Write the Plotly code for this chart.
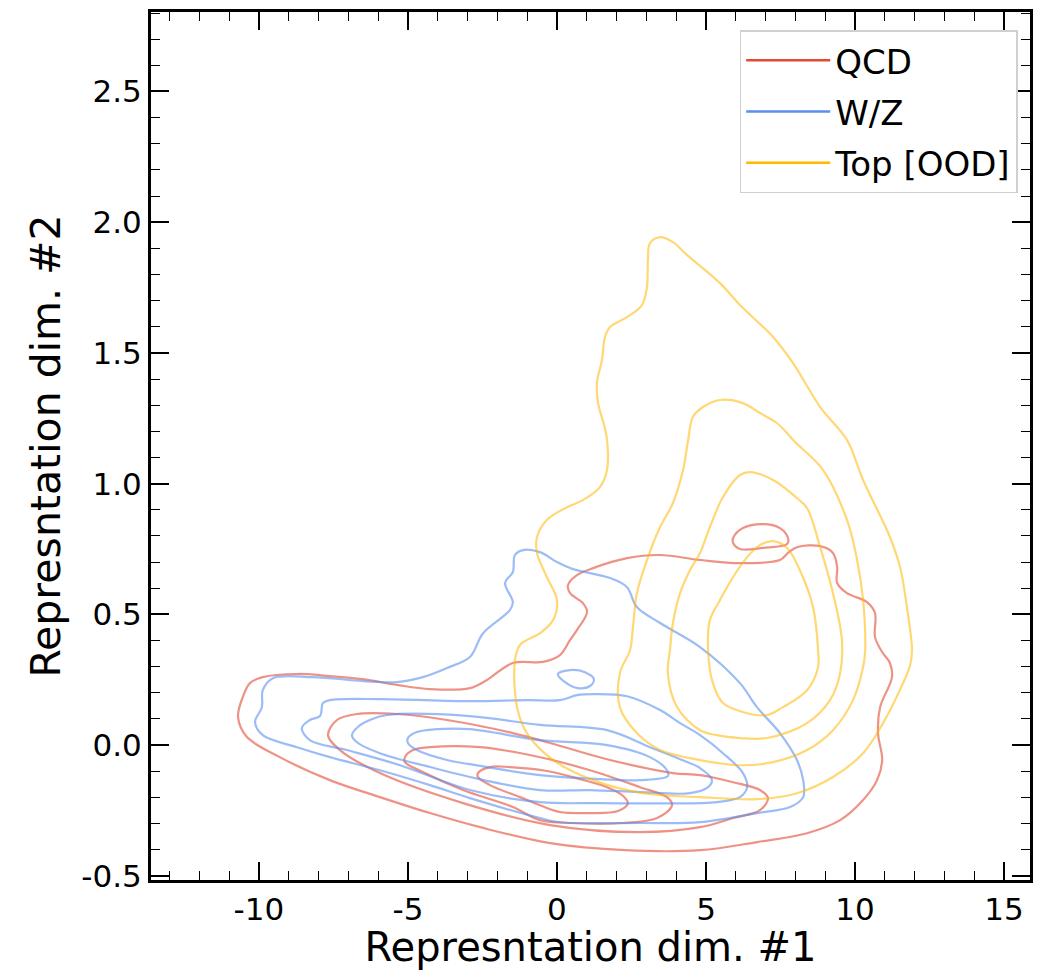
import plotly.graph_objects as go

# ---------------- data (data units) ----------------
classes = ["QCD", "W/Z", "Top [OOD]"]
legend_colors = ["rgb(226,74,51)", "rgb(90,143,240)", "rgb(255,184,0)"]
contour_colors = ["rgba(226,74,51,0.6)", "rgba(90,143,240,0.6)", "rgba(255,184,0,0.55)"]

# QCD contours
qcd_x_1 = [-10.70, -10.54, -10.30, -9.87, -8.72, -7.62, -6.51, -5.37, -4.26, -2.92, -2.35, -1.48, -0.47, 0.10, 0.44,
           0.67, 1.01, 0.87, 0.44, 0.37, 0.67, 1.21, 2.35, 3.46, 4.80, 6.14, 7.48, 7.75, 8.05, 8.83, 9.26, 9.40, 9.40,
           9.73, 10.40, 10.67, 10.67, 10.91, 11.17, 11.24, 10.84, 10.77, 10.91, 10.74, 10.27, 9.50, 8.39, 6.71, 4.80,
           2.28, -0.23, -2.58, -4.26, -5.94, -7.62, -9.30, -10.40, -10.70]
qcd_y_1 = [0.107, 0.184, 0.237, 0.260, 0.272, 0.264, 0.252, 0.230, 0.214, 0.218, 0.249, 0.314, 0.318, 0.344, 0.402,
           0.440, 0.509, 0.543, 0.581, 0.612, 0.650, 0.677, 0.715, 0.727, 0.708, 0.696, 0.708, 0.735, 0.757, 0.761,
           0.735, 0.681, 0.620, 0.581, 0.547, 0.505, 0.413, 0.356, 0.314, 0.260, 0.145, 0.046, -0.057, -0.134, -0.210,
           -0.287, -0.337, -0.371, -0.402, -0.402, -0.375, -0.314, -0.260, -0.199, -0.134, -0.046, 0.031, 0.107]
qcd_x_1b = [5.91, 6.24, 6.91, 7.48, 7.75, 7.72, 6.91, 6.14, 5.91, 5.91]
qcd_y_1b = [0.792, 0.830, 0.845, 0.830, 0.792, 0.769, 0.754, 0.750, 0.773, 0.792]
qcd_x_2 = [-7.68, -7.38, -6.71, -5.37, -3.69, -1.48, -0.23, 1.68, 3.89, 4.80, 5.91, 6.81, 7.08, 6.81, 5.91, 4.80,
           2.79, -0.23, -3.15, -5.94, -7.28, -7.68]
qcd_y_2 = [0.038, 0.096, 0.119, 0.119, 0.096, 0.046, 0.008, -0.054, -0.107, -0.115, -0.142, -0.172, -0.203, -0.249,
           -0.279, -0.314, -0.333, -0.306, -0.222, -0.107, -0.019, 0.038]
qcd_x_3 = [-5.10, -4.83, -4.26, -2.58, -0.91, 1.11, 2.79, 3.69, 3.86, 3.36, 2.21, 0.54, -0.57, -1.48, -3.15, -4.50,
           -5.10, -5.10]
qcd_y_3 = [-0.046, -0.019, -0.008, -0.008, -0.038, -0.096, -0.161, -0.199, -0.230, -0.279, -0.298, -0.298, -0.287,
           -0.237, -0.172, -0.103, -0.065, -0.046]
qcd_x_4 = [-2.65, -2.25, -1.58, -0.34, 0.77, 1.68, 2.18, 2.38, 2.05, 1.11, 0.10, -0.57, -1.24, -2.25, -2.65, -2.65]
qcd_y_4 = [-0.107, -0.084, -0.084, -0.099, -0.130, -0.161, -0.191, -0.222, -0.252, -0.260, -0.256, -0.230, -0.199,
           -0.153, -0.122, -0.107]

# W/Z contours
wz_x_1 = [-10.13, -9.90, -9.87, -9.53, -8.19, -6.51, -5.37, -4.50, -3.69, -2.92, -2.48, -1.58, -1.48, -1.74, -1.48,
          -1.41, -1.14, -0.57, 0.00, 0.54, 1.78, 2.35, 2.68, 3.46, 4.80, 6.14, 6.71, 7.48, 8.05, 8.26, 8.26, 7.82,
          6.71, 4.80, 2.79, 0.10, -0.57, -2.92, -4.26, -5.94, -7.62, -8.72, -9.87, -10.13]
wz_y_1 = [0.088, 0.145, 0.210, 0.256, 0.260, 0.245, 0.241, 0.260, 0.295, 0.337, 0.428, 0.516, 0.547, 0.620, 0.662,
          0.727, 0.746, 0.738, 0.700, 0.673, 0.639, 0.604, 0.528, 0.467, 0.375, 0.237, 0.145, 0.046, -0.057, -0.134,
          -0.199, -0.237, -0.260, -0.295, -0.298, -0.295, -0.279, -0.203, -0.153, -0.096, -0.046, -0.008, 0.038, 0.088]
wz_x_1b = [0.03, 0.44, 0.94, 1.24, 1.11, 0.70, 0.27, 0.03]
wz_y_1b = [0.272, 0.287, 0.279, 0.252, 0.226, 0.218, 0.241, 0.272]
wz_x_2 = [-8.56, -8.29, -7.95, -7.85, -7.62, -5.94, -2.92, -1.01, 0.10, 0.67, 1.21, 2.35, 3.46, 4.13, 4.80, 5.57,
          6.24, 6.38, 6.14, 5.37, 4.80, 1.44, -0.57, -2.92, -5.27, -7.05, -8.29, -8.56]
wz_y_2 = [0.065, 0.096, 0.111, 0.161, 0.172, 0.176, 0.168, 0.172, 0.172, 0.191, 0.195, 0.187, 0.134, 0.084, 0.038,
          -0.031, -0.107, -0.161, -0.199, -0.218, -0.222, -0.222, -0.218, -0.172, -0.077, -0.019, 0.019, 0.065]
wz_x_3 = [-6.88, -6.68, -6.28, -5.70, -2.92, -0.57, 1.68, 3.12, 4.13, 4.80, 5.20, 5.03, 4.46, 2.79, 1.11, -0.57,
          -2.92, -4.26, -5.94, -6.71, -6.88]
wz_y_3 = [0.038, 0.069, 0.096, 0.115, 0.111, 0.077, 0.057, -0.008, -0.054, -0.088, -0.134, -0.164, -0.184, -0.180,
          -0.172, -0.172, -0.122, -0.084, -0.031, 0.011, 0.038]
wz_x_4 = [-5.00, -4.70, -4.03, -2.92, -0.57, 1.68, 3.12, 3.69, 3.72, 2.79, 1.44, -0.57, -2.92, -3.69, -4.70, -5.00,
          -5.00]
wz_y_4 = [0.027, 0.050, 0.061, 0.061, 0.019, 0.000, -0.046, -0.096, -0.119, -0.134, -0.130, -0.115, -0.073, -0.057,
          -0.019, 0.008, 0.027]

# Top [OOD] contours
top_x_1 = [3.46, 3.89, 4.36, 5.47, 6.14, 7.25, 7.92, 8.83, 9.73, 10.27, 11.17, 11.51, 11.74, 11.91, 11.85, 11.61,
           10.94, 10.27, 9.26, 8.05, 6.71, 4.80, 2.89, 1.21, -0.13, -1.01, -1.34, -1.41, -1.24, -0.57, -0.13, 0.00,
           -0.34, -0.67, -0.67, -0.34, 0.34, 0.87, 1.44, 1.68, 1.68, 1.58, 1.38, 1.34, 1.51, 1.61, 1.78, 2.35, 2.85,
           3.02, 3.05, 3.12, 3.46]
top_y_1 = [1.943, 1.924, 1.875, 1.767, 1.683, 1.561, 1.461, 1.293, 1.167, 1.014, 0.796, 0.681, 0.528, 0.363, 0.306,
           0.237, 0.084, -0.031, -0.122, -0.184, -0.207, -0.199, -0.184, -0.134, -0.057, 0.046, 0.145, 0.325, 0.383,
           0.428, 0.478, 0.555, 0.643, 0.735, 0.796, 0.861, 0.910, 0.937, 0.987, 1.052, 1.167, 1.224, 1.308, 1.385,
           1.473, 1.561, 1.599, 1.637, 1.683, 1.752, 1.855, 1.920, 1.943]
top_x_2 = [4.40, 4.56, 4.90, 5.47, 6.24, 6.81, 7.38, 7.99, 8.93, 9.73, 10.07, 10.27, 10.34, 10.27, 9.93, 9.26, 8.39,
           7.25, 6.14, 4.46, 3.46, 2.68, 2.11, 2.11, 2.45, 2.55, 2.68, 3.02, 3.46, 3.89, 4.23, 4.40]
top_y_2 = [1.167, 1.255, 1.293, 1.320, 1.308, 1.270, 1.232, 1.159, 1.052, 0.861, 0.708, 0.555, 0.363, 0.298, 0.172,
           0.057, -0.019, -0.065, -0.077, -0.050, -0.019, 0.046, 0.145, 0.275, 0.363, 0.451, 0.581, 0.708, 0.834,
           0.926, 1.052, 1.167]
top_x_3 = [6.48, 7.25, 8.05, 8.39, 8.83, 9.26, 9.56, 9.50, 9.16, 8.39, 7.05, 6.14, 5.37, 4.80, 4.03, 3.72, 3.79,
           3.89, 4.13, 4.46, 4.80, 5.13, 5.57, 6.14, 6.48]
top_y_3 = [1.044, 1.014, 0.945, 0.907, 0.757, 0.581, 0.402, 0.275, 0.172, 0.084, 0.027, 0.027, 0.038, 0.057, 0.145,
           0.275, 0.363, 0.467, 0.581, 0.669, 0.735, 0.834, 0.949, 1.033, 1.044]
top_x_4 = [7.25, 7.72, 8.15, 8.59, 8.76, 8.76, 8.39, 7.58, 7.05, 6.38, 5.57, 5.23, 5.07, 5.13, 5.47, 5.91, 6.38,
           6.81, 7.25]
top_y_4 = [0.780, 0.754, 0.669, 0.528, 0.363, 0.298, 0.210, 0.145, 0.115, 0.122, 0.161, 0.237, 0.363, 0.478, 0.555,
           0.643, 0.719, 0.765, 0.780]

x_tick_vals = [-10, -5, 0, 5, 10, 15]
x_tick_text = ["-10", "-5", "0", "5", "10", "15"]
y_tick_vals = [-0.5, 0.0, 0.5, 1.0, 1.5, 2.0, 2.5]
y_tick_text = ["-0.5", "0.0", "0.5", "1.0", "1.5", "2.0", "2.5"]

contours = [
    [(qcd_x_1, qcd_y_1), (qcd_x_1b, qcd_y_1b), (qcd_x_2, qcd_y_2), (qcd_x_3, qcd_y_3), (qcd_x_4, qcd_y_4)],
    [(wz_x_1, wz_y_1), (wz_x_1b, wz_y_1b), (wz_x_2, wz_y_2), (wz_x_3, wz_y_3), (wz_x_4, wz_y_4)],
    [(top_x_1, top_y_1), (top_x_2, top_y_2), (top_x_3, top_y_3), (top_x_4, top_y_4)],
]

# ---------------- figure ----------------
fig = go.Figure()
for ci, name in enumerate(classes):
    for (cx, cy) in contours[ci]:
        fig.add_trace(go.Scatter(x=cx, y=cy, mode="lines", showlegend=False, hoverinfo="skip",
                                 line=dict(color=contour_colors[ci], width=2.2, shape="spline", smoothing=1.0)))
for ci, name in enumerate(classes):
    fig.add_trace(go.Scatter(x=[None], y=[None], mode="lines", name=name, legendgroup=name,
                             line=dict(color=legend_colors[ci], width=2.5)))

axis_common = dict(showline=True, linewidth=3, linecolor="black", mirror="allticks",
                   ticks="inside", ticklen=18, tickwidth=1.5, tickcolor="black", automargin=False,
                   showgrid=False, zeroline=False, tickfont=dict(size=31, color="black"))

fig.update_xaxes(range=[-13.62, 15.87], tickmode="array", tickvals=x_tick_vals, ticktext=x_tick_text,
                 minor=dict(ticks="inside", ticklen=9, tickwidth=1.2, tickcolor="black", dtick=1, tick0=0),
                 title=dict(text="Represntation dim. #1", font=dict(size=40, color="black"), standoff=12),
                 **axis_common)
fig.update_yaxes(range=[-0.516, 2.804], tickmode="array", tickvals=y_tick_vals, ticktext=y_tick_text,
                 minor=dict(ticks="inside", ticklen=9, tickwidth=1.2, tickcolor="black", dtick=0.1, tick0=0),
                 title=dict(text="Represntation dim. #2", font=dict(size=41, color="black"), standoff=8),
                 **axis_common)

fig.update_layout(
    width=1043, height=970,
    margin=dict(l=151, r=13, t=12, b=90),
    paper_bgcolor="white", plot_bgcolor="white",
    font=dict(family="DejaVu Sans", color="black"),
    legend=dict(x=0.986, xanchor="right", y=0.979, yanchor="top",
                bgcolor="white", bordercolor="#d0d0d0", borderwidth=1.5,
                font=dict(size=34, color="black"), traceorder="grouped", tracegroupgap=4,
                itemwidth=84),
)

fig.write_html("out.html")
